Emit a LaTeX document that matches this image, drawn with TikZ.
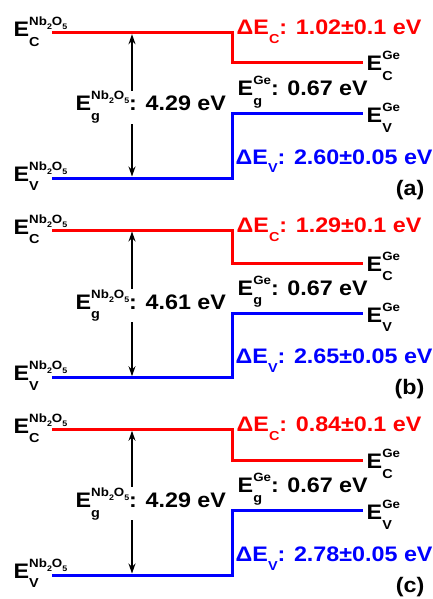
\documentclass[tikz,border=0pt]{standalone}
\usepackage{fontspec}
\setmainfont{Liberation Sans Bold}[FakeStretch=1.11]
\usetikzlibrary{arrows.meta}
\definecolor{bandred}{RGB}{255,0,0}
\definecolor{bandblue}{RGB}{0,0,255}
% E with stacked subscript (#1) and superscript (#2)
\newcommand\Esubsup[2]{E\begingroup
 \setbox0\hbox{\fontsize{13}{13}\selectfont\raisebox{-9.5pt}{#1}}%
 \setbox2\hbox{\fontsize{12}{12}\selectfont\raisebox{11pt}{#2}}%
 \ifdim\wd0>\wd2 \rlap{\box2}\box0 \else\rlap{\box0}\box2\fi\endgroup}
\newcommand\Esubonly[1]{E\raisebox{-9pt}{\fontsize{13}{13}\selectfont #1}}
\newcommand\nbo{Nb\raisebox{-4pt}{\fontsize{8}{8}\selectfont 2}O\raisebox{-4pt}{\fontsize{8}{8}\selectfont 5}}
\newcommand\bandpanel[9]{%
 % #1 name, #2 Ec(Nb2O5), #3 Ec(Ge), #4 Ev(Ge), #5 Ev(Nb2O5), #6 gap, #7 dEc, #8 dEv, #9 letter
 \coordinate (#1rl) at (52,#2);
 \coordinate (#1rs) at (232.5,#2);
 \coordinate (#1rd) at (232.5,#3);
 \coordinate (#1rr) at (363,#3);
 \coordinate (#1bl) at (52,#5);
 \coordinate (#1bs) at (232.5,#5);
 \coordinate (#1bu) at (232.5,#4);
 \coordinate (#1br) at (363,#4);
 \coordinate (#1at) at (132,{#2+1.5});
 \coordinate (#1ab) at (132,{#5-1.5});
 \draw[cband] (#1rl) -- (#1rs) -- (#1rd) -- (#1rr);
 \draw[vband] (#1bl) -- (#1bs) -- (#1bu) -- (#1br);
 \draw[gaparrow] (#1at) -- (#1ab);
 \node[lbl,fill=white] (#1gap) at (75,{(#2+#5)/2+5.5}) {\Esubsup{g}{\nbo}: #6 eV};
 \node[lbl] (#1ecl) at (13,{#2+4}) {\Esubsup{C}{\nbo}};
 \node[lbl] (#1evl) at (13,{#5+3}) {\Esubsup{V}{\nbo}};
 \node[lbl,text=bandred] (#1dec) at (236,{#2+2}) {Δ\Esubonly{C}: #7 eV};
 \node[lbl] (#1ecr) at (366,{#3+8}) {\Esubsup{C}{Ge}};
 \node[lbl] (#1egg) at (237,{#4-18}) {\Esubsup{g}{Ge}: 0.67 eV};
 \node[lbl] (#1evr) at (366,{#4+9}) {\Esubsup{V}{Ge}};
 \node[lbl,text=bandblue] (#1dev) at (235,{#5-14}) {Δ\Esubonly{V}: #8 eV};
 \node[lbl,anchor=base east] (#1tag) at (425,{#5+17}) {(#9)};
}
\begin{document}
\begin{tikzpicture}[x=1pt,y=-1pt,
  cband/.style={draw=bandred,line width=3pt},
  vband/.style={draw=bandblue,line width=3pt},
  gaparrow/.style={draw=black,line width=1.3pt,{Stealth[length=10pt,width=7pt]}-{Stealth[length=10pt,width=7pt]}},
  lbl/.style={anchor=base west,inner sep=0.5pt,font=\fontsize{21}{21}\selectfont}]
\useasboundingbox[fill=white] (0,0) rectangle (433,599);
\bandpanel{a}{32.7}{63}{114}{178}{4.29}{1.02±0.1}{2.60±0.05}{a}
\bandpanel{b}{230}{263.3}{313}{377.7}{4.61}{1.29±0.1}{2.65±0.05}{b}
\bandpanel{c}{429.3}{460.7}{510.7}{575}{4.29}{0.84±0.1}{2.78±0.05}{c}
\end{tikzpicture}
\end{document}
